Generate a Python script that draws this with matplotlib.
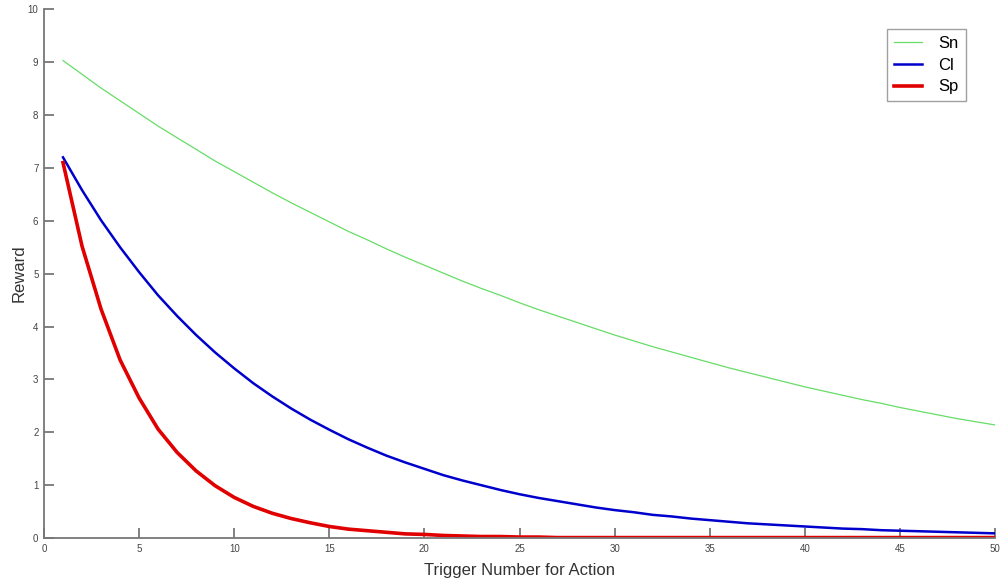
import numpy as np
import matplotlib
matplotlib.use("Agg")
import matplotlib.pyplot as plt

plt.rcParams['font.family'] = ['Liberation Sans', 'DejaVu Sans']

trigger = np.arange(1, 51)

sn = [9.03, 8.77, 8.51, 8.27, 8.03, 7.79, 7.57, 7.35, 7.13, 6.93,
      6.73, 6.53, 6.34, 6.16, 5.98, 5.80, 5.64, 5.47, 5.31, 5.16,
      5.01, 4.86, 4.72, 4.59, 4.45, 4.32, 4.20, 4.08, 3.96, 3.84,
      3.73, 3.62, 3.52, 3.42, 3.32, 3.22, 3.13, 3.04, 2.95, 2.86,
      2.78, 2.70, 2.62, 2.55, 2.47, 2.40, 2.33, 2.26, 2.20, 2.14]

cl = [7.20, 6.58, 6.01, 5.50, 5.03, 4.59, 4.20, 3.84, 3.51, 3.21,
      2.93, 2.68, 2.45, 2.24, 2.05, 1.87, 1.71, 1.56, 1.43, 1.31,
      1.19, 1.09, 1.00, 0.91, 0.83, 0.76, 0.70, 0.64, 0.58, 0.53,
      0.49, 0.44, 0.41, 0.37, 0.34, 0.31, 0.28, 0.26, 0.24, 0.22,
      0.20, 0.18, 0.17, 0.15, 0.14, 0.13, 0.12, 0.11, 0.10, 0.09]

sp = [7.10, 5.52, 4.33, 3.37, 2.65, 2.06, 1.62, 1.27, 0.99, 0.77,
      0.60, 0.47, 0.37, 0.29, 0.22, 0.17, 0.14, 0.11, 0.08, 0.07,
      0.05, 0.04, 0.03, 0.03, 0.02, 0.02, 0.01, 0.01, 0.01, 0.01,
      0.01, 0.01, 0.01, 0.01, 0.01, 0.01, 0.01, 0.01, 0.01, 0.01,
      0.01, 0.01, 0.01, 0.01, 0.01, 0.01, 0.01, 0.01, 0.01, 0.01]

fig = plt.figure(figsize=(10, 5.78), dpi=100)
ax = fig.add_axes([0.044, 0.069, 0.951, 0.915])

ax.plot(trigger, sn, color="#66dd66", lw=0.9, label="Sn")
ax.plot(trigger, cl, color="#0000cc", lw=1.8, label="Cl")
ax.plot(trigger, sp, color="#e00000", lw=2.6, label="Sp")

ax.set_xlim(0, 50)
ax.set_ylim(0, 10)
ax.set_xticks(range(0, 51, 5))
ax.set_yticks(range(0, 11))

for side in ("top", "right"):
    ax.spines[side].set_visible(False)
for side in ("left", "bottom"):
    ax.spines[side].set_color("#777777")
    ax.spines[side].set_linewidth(1.3)

ax.tick_params(direction="in", length=7, width=1.3, color="#777777",
               labelsize=7, labelcolor="#444444", pad=4)

ax.set_xlabel("Trigger Number for Action", fontsize=12, color="#333333", labelpad=7)
ax.set_ylabel("Reward", fontsize=12, color="#333333", labelpad=1)

leg = ax.legend(loc="upper right", bbox_to_anchor=(0.969, 0.962), fontsize=12,
                fancybox=False, handlelength=1.7, borderpad=0.4,
                labelspacing=0.4, handletextpad=1.0, borderaxespad=0)
leg.get_frame().set_edgecolor("#888888")
leg.get_frame().set_linewidth(1.0)

fig.savefig("out.png", dpi=100)
